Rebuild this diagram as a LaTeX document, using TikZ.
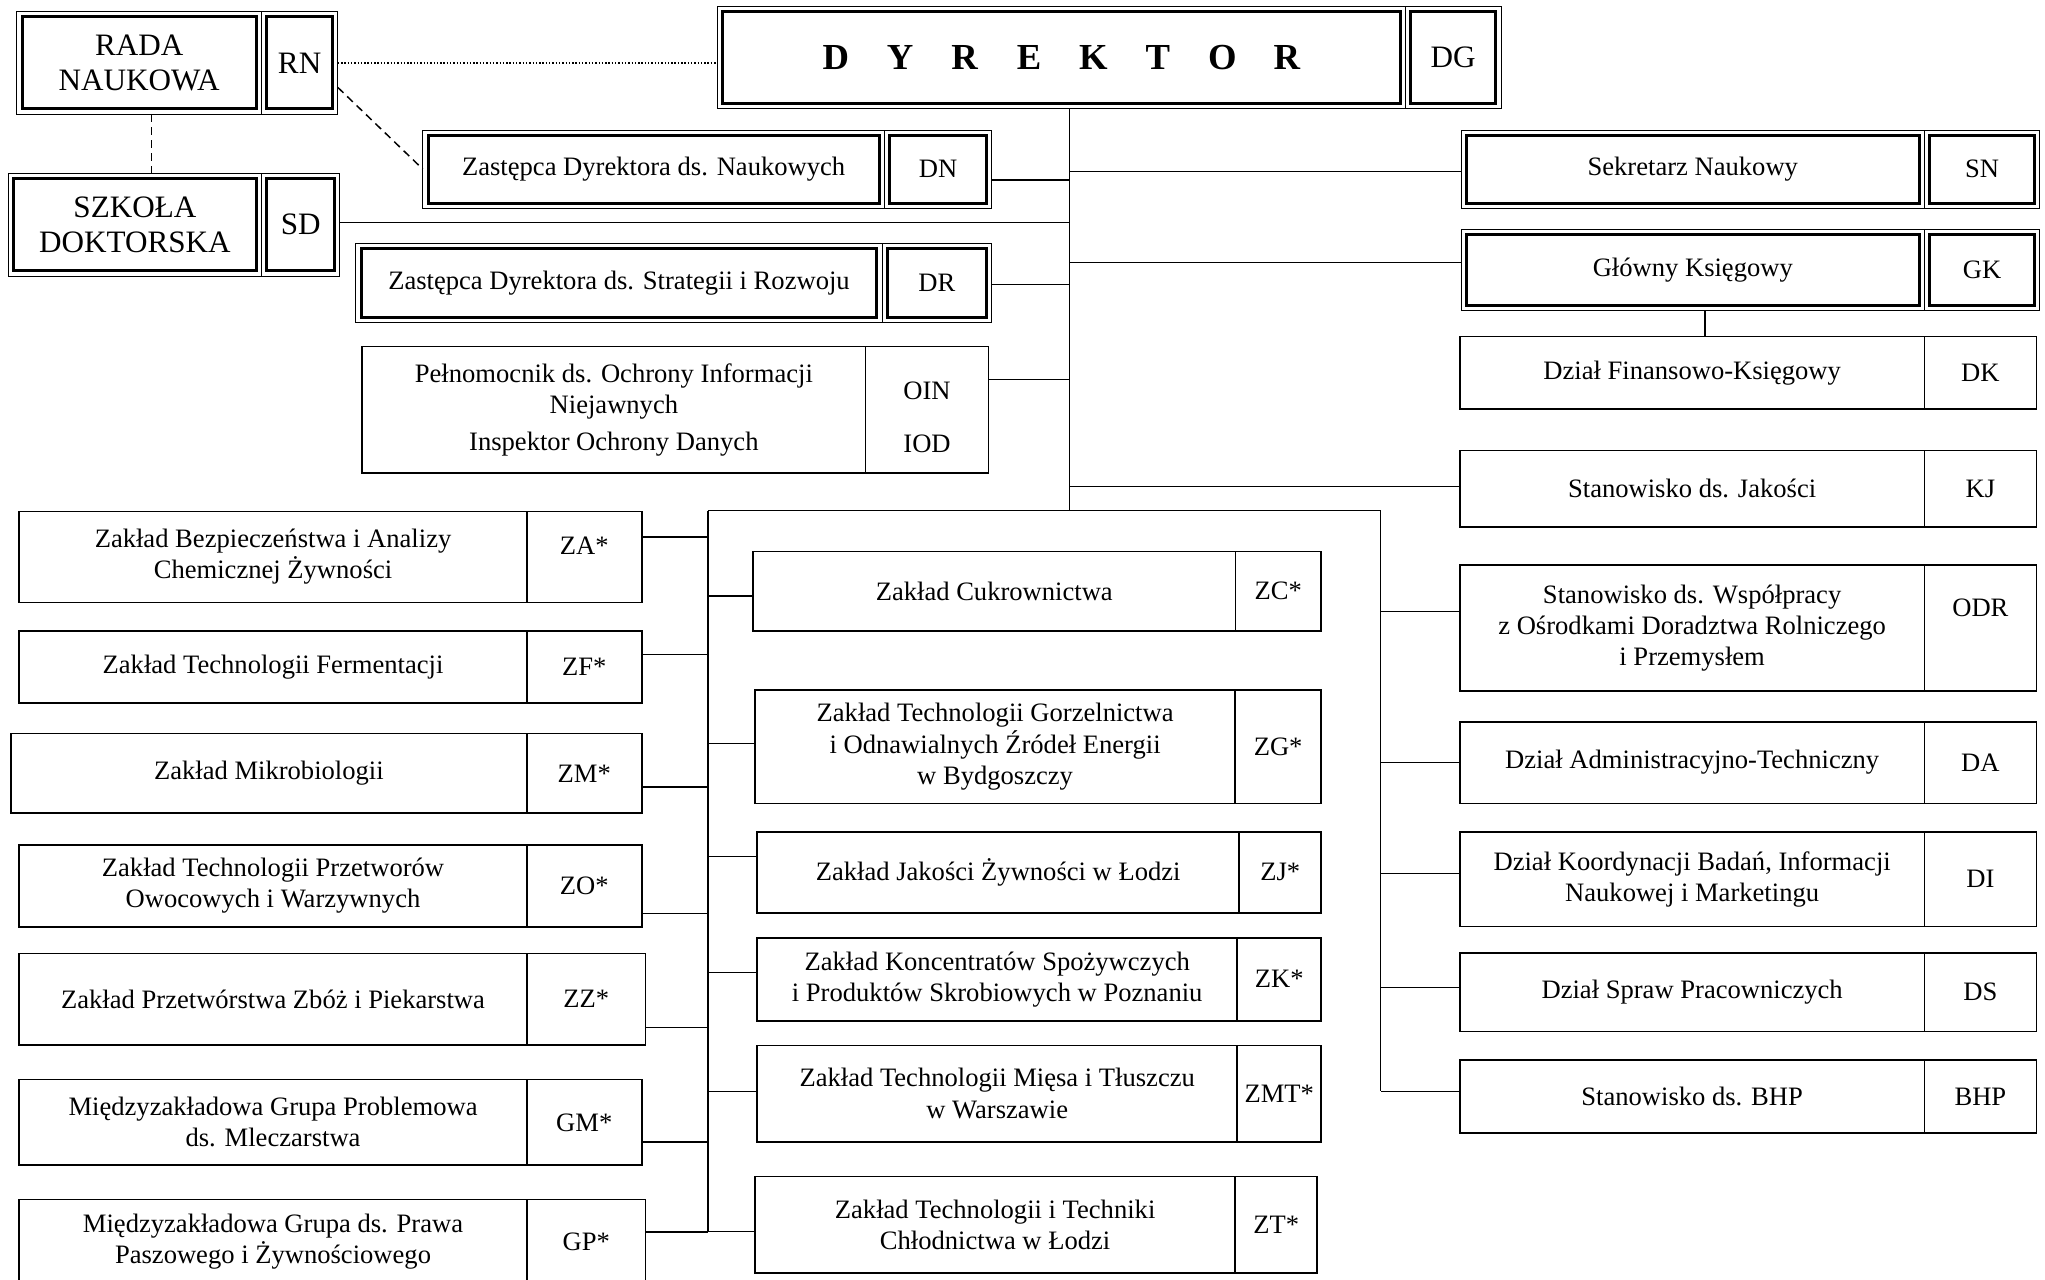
\documentclass[tikz,border=0pt]{standalone}
\usepackage{fontspec}
\setmainfont{Liberation Serif}
\usetikzlibrary{calc}

% box with name cell and code cell: [style]{name}{x0}{xsplit}{x1}{y0}{y1}{text}{code}
\newcommand{\orgbox}[9][cell]{%
  \pgfmathsetmacro\wa{(#4-#3)/4}%
  \pgfmathsetmacro\wb{(#5-#4)/4}%
  \pgfmathsetmacro\hh{(#7-#6)/4}%
  \node[#1, minimum width=\wa mm, minimum height=\hh mm] (#2) at ({(#3+#4)/2},{(#6+#7)/2}) {#8};
  \node[#1, minimum width=\wb mm, minimum height=\hh mm] (#2-c) at ({(#4+#5)/2},{(#6+#7)/2}) {#9};
}
% horizontal connector from a box side to a bus line
\newcommand{\tolink}[4]{%
  \path ($(#1.north #2)!#3!(#1.south #2)$) coordinate (#1-t);
  \draw[conn] (#1-t) -- (#1-t -| #4);
}
\newcommand{\dirletters}{\foreach \l in {D,Y,R,E,K,T,O,R}{\makebox[12.35mm]{\l}}}

\begin{document}
\begin{tikzpicture}[x=0.25mm, y=-0.25mm,
    cell/.style={draw, line width=0.9pt, inner sep=0pt, outer sep=0pt, align=center,
                 font=\fontsize{14.5}{17}\selectfont},
    dcell/.style={cell, line width=0.5pt,
                  path picture={\draw[line width=1.6pt]
                     ([shift={(1mm,-1mm)}]path picture bounding box.north west) rectangle
                     ([shift={(-1mm,1mm)}]path picture bounding box.south east);}},
    bigtext/.style={font=\fontsize{17}{19.5}\selectfont},
    conn/.style={line width=0.8pt}]
  \useasboundingbox (0,0) rectangle (1568,981);

  % top level
  \orgbox[dcell,bigtext]{rn}{13}{200.5}{259}{9}{87.4}{RADA\\NAUKOWA}{RN}
  \orgbox[dcell,bigtext]{sd}{6.4}{200.5}{260.6}{133}{211.6}{SZKOŁA\\DOKTORSKA}{SD}
  \orgbox[dcell,bigtext]{dg}{550}{1077.5}{1151}{4.6}{83.3}%
    {\fontsize{20}{24}\selectfont\bfseries\dirletters}{DG}

  % deputies
  \orgbox[dcell]{dn}{324.2}{678.2}{760.4}{99.7}{159.7}{Zastępca Dyrektora ds. Naukowych}{DN}
  \orgbox[dcell]{dr}{272.9}{676.3}{760.4}{186.6}{247.4}{Zastępca Dyrektora ds. Strategii i Rozwoju}{DR}
  \orgbox{oin}{277.8}{663.6}{758}{265.8}{362.9}%
    {Pełnomocnik ds. Ochrony Informacji\\Niejawnych\\[1.2mm]Inspektor Ochrony Danych}%
    {\raisebox{0pt}[\dimexpr\height+2.8mm][\depth]{OIN}\\[4.3mm]IOD}
  \orgbox[dcell]{sn}{1120.4}{1475.5}{1564}{99.7}{159.7}{Sekretarz Naukowy}{SN}
  \orgbox[dcell]{gk}{1120.4}{1475.5}{1564}{175.8}{238.4}{Główny Księgowy}{GK}

  % right column
  \orgbox{dk}{1119.4}{1475.5}{1561.4}{258}{313.6}{Dział Finansowo-Księgowy}{DK}
  \orgbox{kj}{1119.4}{1475.5}{1561.4}{345.5}{404}{Stanowisko ds. Jakości}{KJ}
  \orgbox{odr}{1119.4}{1475.5}{1561.4}{433.3}{529.6}%
    {Stanowisko ds. Współpracy\\z Ośrodkami Doradztwa Rolniczego\\i Przemysłem}{\raisebox{3.9mm}[\height][\depth]{ODR}}
  \orgbox{da}{1119.4}{1475.5}{1561.4}{553.5}{616}{Dział Administracyjno-Techniczny}{DA}
  \orgbox{di}{1119.4}{1475.5}{1561.4}{638}{710.3}{Dział Koordynacji Badań, Informacji\\Naukowej i Marketingu}{DI}
  \orgbox{ds}{1119.4}{1475.5}{1561.4}{730.7}{791}{Dział Spraw Pracowniczych}{DS}
  \orgbox{bhp}{1119.4}{1475.5}{1561.4}{812.8}{868.8}{Stanowisko ds. BHP}{BHP}

  % left column
  \orgbox{za}{14.7}{404}{492}{392.3}{461.9}%
    {Zakład Bezpieczeństwa i Analizy\\Chemicznej Żywności}{\raisebox{2.25mm}[\height][\depth]{ZA*}}
  \orgbox{zf}{14.7}{404}{492}{483.8}{539}{Zakład Technologii Fermentacji}{ZF*}
  \orgbox{zm}{8.3}{404}{492}{562.4}{623.5}{Zakład Mikrobiologii}{ZM*}
  \orgbox{zo}{14.7}{404}{492}{647.7}{711}{Zakład Technologii Przetworów\\Owocowych i Warzywnych}{ZO*}
  \orgbox{zz}{14.7}{404}{495}{731}{801}{Zakład Przetwórstwa Zbóż i Piekarstwa}{ZZ*}
  \orgbox{gm}{14.7}{404}{492}{827.7}{893.4}{Międzyzakładowa Grupa Problemowa\\ds. Mleczarstwa}{GM*}
  \orgbox{gp}{14.7}{404}{495}{919.6}{985}{Międzyzakładowa Grupa ds. Prawa\\Paszowego i Żywnościowego}{GP*}

  % middle column
  \orgbox{zc}{577.5}{947.2}{1013}{422.8}{483.8}{Zakład Cukrownictwa}{ZC*}
  \orgbox{zg}{579}{947}{1013}{529}{616}%
    {Zakład Technologii Gorzelnictwa\\i Odnawialnych Źródeł Energii\\w Bydgoszczy}{ZG*}
  \orgbox{zj}{580.5}{950.2}{1013}{638}{699.8}{Zakład Jakości Żywności w Łodzi}{ZJ*}
  \orgbox{zk}{580.5}{948.7}{1013}{719}{782.7}%
    {Zakład Koncentratów Spożywczych\\i Produktów Skrobiowych w Poznaniu}{ZK*}
  \orgbox{zmt}{580.5}{948.7}{1013}{801.5}{875.4}{Zakład Technologii Mięsa i Tłuszczu\\w Warszawie}{ZMT*}
  \orgbox{zt}{579}{947}{1010}{902}{976}{Zakład Technologii i Techniki\\Chłodnictwa w Łodzi}{ZT*}

  % bus lines
  \coordinate (bus) at (820,391.5);
  \coordinate (lbus) at (542.8,391.5);
  \coordinate (rbus) at (1058.6,391.5);
  \draw[conn] (dg.south -| bus) -- (bus);
  \draw[conn] (lbus) -- (rbus);

  \foreach \n/\f in {dn-c/0.64, sd-c/0.48, dr-c/0.52, oin-c/0.26}
    {\tolink{\n}{east}{\f}{bus}}
  \foreach \n/\f in {sn/0.53, gk/0.41, kj/0.47}
    {\tolink{\n}{west}{\f}{bus}}
  \foreach \n/\f in {za-c/0.28, zf-c/0.33, zm-c/0.67, zo-c/0.83, zz-c/0.81, gm-c/0.73, gp-c/0.38}
    {\tolink{\n}{east}{\f}{lbus}}
  \foreach \n/\f in {zc/0.56, zg/0.47, zj/0.30, zk/0.42, zmt/0.48, zt/0.57}
    {\tolink{\n}{west}{\f}{lbus}}
  \foreach \n/\f in {odr/0.37, da/0.5, di/0.44, ds/0.44, bhp/0.43}
    {\tolink{\n}{west}{\f}{rbus}}
  \draw[conn] (lbus) -- (lbus |- gp-c-t);
  \draw[conn] (rbus) -- (rbus |- bhp-t);

  % advisory links
  \draw[conn, densely dotted] (rn-c.east) -- (rn-c.east -| dg.west);
  \draw[conn, dash pattern=on 1.5mm off 1mm] ($(rn-c.north east)!0.74!(rn-c.south east)$) -- (dn.west);
  \draw[conn, dash pattern=on 1.5mm off 1mm] ([xshift=2.4mm]rn.south) -- ([xshift=2.4mm]rn.south |- sd.north);
  \draw[conn] ([xshift=2.3mm]gk.south) -- ([xshift=2.3mm]gk.south |- dk.north);
\end{tikzpicture}
\end{document}
